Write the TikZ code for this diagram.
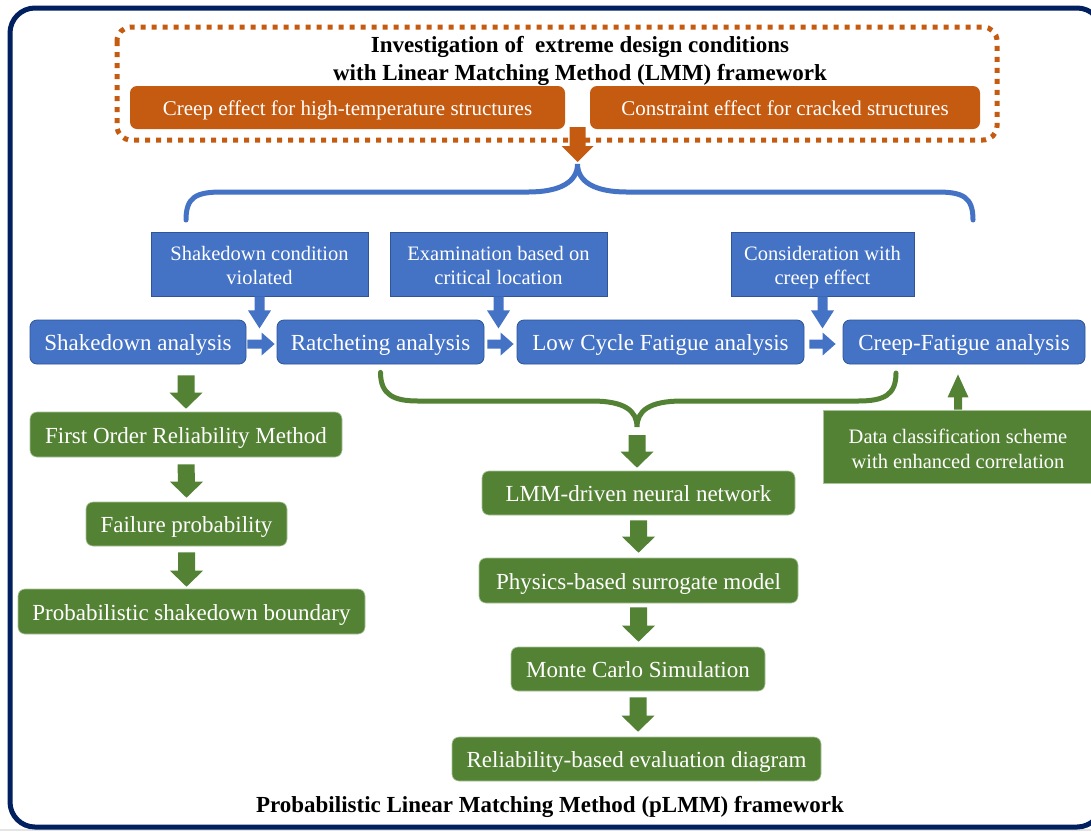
\documentclass[tikz,border=0pt]{standalone}
\usepackage{fontspec}
\setmainfont{Liberation Serif}
\usetikzlibrary{calc}

\definecolor{navy}{HTML}{002060}
\definecolor{orng}{HTML}{C55A11}
\definecolor{blu}{HTML}{4472C4}
\definecolor{bluedge}{HTML}{2F5597}
\definecolor{grn}{HTML}{548235}
\definecolor{grnedge}{HTML}{A9C49A}

% struts that fix the vertical placement of box texts
\newcommand\onestrut{\rule[-5pt]{0pt}{27pt}}
\newcommand\orstrut{\rule[-5pt]{0pt}{25pt}}
\newcommand\fstrut[1]{\rule{0pt}{#1}}
\newcommand\lstrut{\rule[-4.5pt]{0pt}{5pt}}

% vertical block arrow: colour, start, tip, shaft half width, head half width, head length (signed)
\newcommand\vblockarrow[6]{%
  \fill[#1] ($(#2)+(-#4,0)$) -- ($(#3)+(-#4,{-(#6)})$) -- ($(#3)+(-#5,{-(#6)})$) -- (#3)
    -- ($(#3)+(#5,{-(#6)})$) -- ($(#3)+(#4,{-(#6)})$) -- ($(#2)+(#4,0)$) -- cycle;}
% horizontal block arrow (pointing right)
\newcommand\hblockarrow[6]{%
  \fill[#1] ($(#2)+(0,-#4)$) -- ($(#3)+({-(#6)},-#4)$) -- ($(#3)+({-(#6)},-#5)$) -- (#3)
    -- ($(#3)+({-(#6)},#5)$) -- ($(#3)+({-(#6)},#4)$) -- ($(#2)+(0,#4)$) -- cycle;}

\begin{document}
\begin{tikzpicture}[x=1pt,y=-1pt,
  box/.style={text=white, inner sep=0pt, align=center, minimum height=44pt},
  orangebox/.style={box, fill=orng, rounded corners=7pt, minimum height=43pt,
    font=\fontsize{21}{25}\selectfont},
  rowbox/.style={box, fill=blu, draw=bluedge, line width=0.8pt, rounded corners=7pt,
    font=\fontsize{23}{27}\selectfont},
  condbox/.style={box, fill=blu, draw=bluedge, line width=0.8pt, minimum height=64pt,
    font=\fontsize{20.5}{24}\selectfont},
  greenbox/.style={box, fill=grn, draw=grnedge, line width=0.6pt, rounded corners=7pt,
    font=\fontsize{23}{27}\selectfont},
  databox/.style={box, fill=grn, draw=grnedge, line width=0.6pt, minimum height=73pt,
    font=\fontsize{20.5}{25}\selectfont},
  heading/.style={font=\bfseries\fontsize{23}{28}\selectfont, align=center, inner sep=0pt},
  brace/.style={line width=5pt, line cap=round},
]
\useasboundingbox (0,0) rectangle (1091,831);
\fill[white] (0,0) rectangle (1091,831);
\fill[black!10] (0,828.5) rectangle (1091,831);

% outer frame
\draw[navy, line width=5pt, rounded corners=25pt] (10,8) rectangle (1102,827);

% LMM framework block
\draw[orng, line width=5pt, dash pattern=on 5pt off 6pt, rounded corners=14pt]
  (117,27) rectangle (997,140);
\node[heading] (title) at (580,61)
  {Investigation of\ \ extreme design conditions\\with Linear Matching Method (LMM) framework};
\node[orangebox, minimum width=435pt] (creep) at (347.5,107.5)
  {\orstrut Creep effect for high-temperature structures};
\node[orangebox, minimum width=390pt] (constr) at (785,107.5)
  {\orstrut Constraint effect for cracked structures};

% upper brace
\coordinate (btip) at (577.5,164);
\coordinate (bl) at (186,220);
\coordinate (br) at (973,220);
\draw[blu, brace] (bl) .. controls (186,197) and (196,192) .. (222,192) -- (528,192)
  .. controls (560,192) and (577.5,182) .. (btip)
  .. controls (577.5,182) and (595,192) .. (627,192) -- (937,192)
  .. controls (963,192) and (973,197) .. (br);

\coordinate (ostart) at ($(creep.south east)!.5!(constr.south west)+(0,-2)$);
\coordinate (otip) at ($(btip)+(0,-2)$);
\vblockarrow{orng}{ostart}{otip}{8}{16}{16}

% conditions
\node[condbox, minimum width=217pt] (cA) at (259.5,264)
  {\fstrut{20.5pt}Shakedown condition\\violated\lstrut};
\node[condbox, minimum width=217pt] (cB) at (498.5,264)
  {\fstrut{20.5pt}Examination based on\\critical location\lstrut};
\node[condbox, minimum width=183pt] (cC) at (822.5,264)
  {\fstrut{20.5pt}Consideration with\\creep effect\lstrut};

% analysis row
\node[rowbox, minimum width=216pt] (s1) at (138,342) {\onestrut Shakedown analysis};
\node[rowbox, minimum width=207pt] (s2) at (380.5,342) {\onestrut Ratcheting analysis};
\node[rowbox, minimum width=287pt] (s3) at (660.5,342) {\onestrut Low Cycle Fatigue analysis};
\node[rowbox, minimum width=242pt] (s4) at (964,342) {\onestrut Creep-Fatigue analysis};

\coordinate (tA) at ($(cA.south)+(0,32)$);
\coordinate (tB) at ($(cB.south)+(0,32)$);
\coordinate (tC) at ($(cC.south)+(0,32)$);
\vblockarrow{blu}{cA.south}{tA}{5}{11.5}{18}
\vblockarrow{blu}{cB.south}{tB}{5}{11.5}{18}
\vblockarrow{blu}{cC.south}{tC}{5}{11.5}{18}

\coordinate (r1a) at ($(s1.east)+(1,2)$);
\coordinate (r1b) at ($(s2.west)+(-2,2)$);
\coordinate (r2a) at ($(s2.east)+(3,2)$);
\coordinate (r2b) at ($(s3.west)+(-3,2)$);
\coordinate (r3a) at ($(s3.east)+(5,2)$);
\coordinate (r3b) at ($(s4.west)+(-7,2)$);
\hblockarrow{blu}{r1a}{r1b}{4.5}{11.5}{13}
\hblockarrow{blu}{r2a}{r2b}{4.5}{11.5}{13}
\hblockarrow{blu}{r3a}{r3b}{4.5}{11.5}{13}

% lower brace
\coordinate (gl) at ($(s2.south)+(0,8)$);
\coordinate (gr) at (896,373);
\coordinate (gtip) at (637,427);
\draw[grn, brace] (gl) .. controls (380.5,395) and (394,401) .. (418,401) -- (592,401)
  .. controls (625,401) and (637,411) .. (gtip)
  .. controls (637,411) and (649,401) .. (682,401) -- (858,401)
  .. controls (884,401) and (896,395) .. (gr);

% reliability branch
\node[greenbox, minimum width=312pt, minimum height=45pt] (form) at (186,434.5) {\onestrut First Order Reliability Method};
\node[greenbox, minimum width=201pt] (fp) at (186.5,524) {\onestrut Failure probability};
\node[greenbox, minimum width=347pt, minimum height=45pt] (psb) at (191.5,611.5) {\onestrut Probabilistic shakedown boundary};

\coordinate (g1a) at ($(form.north |- s1.south)+(0,11)$);
\coordinate (g1b) at ($(form.north)+(0,-3)$);
\coordinate (g2a) at ($(form.south)+(0,7)$);
\coordinate (g2b) at ($(fp.north)+(0,-4)$);
\coordinate (g3a) at ($(fp.south)+(0,6)$);
\coordinate (g3b) at ($(fp.south |- psb.north)+(0,-2)$);
\vblockarrow{grn}{g1a}{g1b}{8.5}{16.5}{16}
\vblockarrow{grn}{g2a}{g2b}{8.5}{16.5}{16}
\vblockarrow{grn}{g3a}{g3b}{8.5}{16.5}{16}

% surrogate-model branch
\node[greenbox, minimum width=313pt] (lmm) at (638.5,493) {\onestrut LMM-driven neural network};
\node[greenbox, minimum width=319pt, minimum height=45pt] (phys) at (638.5,580.5) {\onestrut Physics-based surrogate model};
\node[greenbox, minimum width=254pt] (mc) at (638,669) {\onestrut Monte Carlo Simulation};
\node[greenbox, minimum width=369pt] (rel) at (636.5,759) {\onestrut Reliability-based evaluation diagram};

\coordinate (h1a) at ($(gtip)+(0,8)$);
\coordinate (h1b) at ($(gtip |- lmm.north)+(0,-3)$);
\coordinate (h2a) at ($(lmm.south)+(0,5)$);
\coordinate (h2b) at ($(lmm.south |- phys.north)+(0,-5)$);
\coordinate (h3a) at ($(phys.south)+(0,4)$);
\coordinate (h3b) at ($(phys.south |- mc.north)+(0,-5)$);
\coordinate (h4a) at ($(mc.south)+(0,6)$);
\coordinate (h4b) at ($(mc.south |- rel.north)+(0,-5)$);
\vblockarrow{grn}{h1a}{h1b}{8.5}{16.5}{16}
\vblockarrow{grn}{h2a}{h2b}{8.5}{16.5}{16}
\vblockarrow{grn}{h3a}{h3b}{8.5}{16.5}{16}
\vblockarrow{grn}{h4a}{h4b}{8.5}{16.5}{16}

% data classification
\node[databox, minimum width=270pt] (data) at (958,446.5)
  {\fstrut{22.5pt}Data classification scheme\\with enhanced correlation\lstrut};
\coordinate (dtip) at ($(data.north |- s4.south)+(0,10)$);
\vblockarrow{grn}{data.north}{dtip}{4}{10.5}{-23}

% footer
\node[heading] (foot) at (550,807) {Probabilistic Linear Matching Method (pLMM) framework};
\end{tikzpicture}
\end{document}
